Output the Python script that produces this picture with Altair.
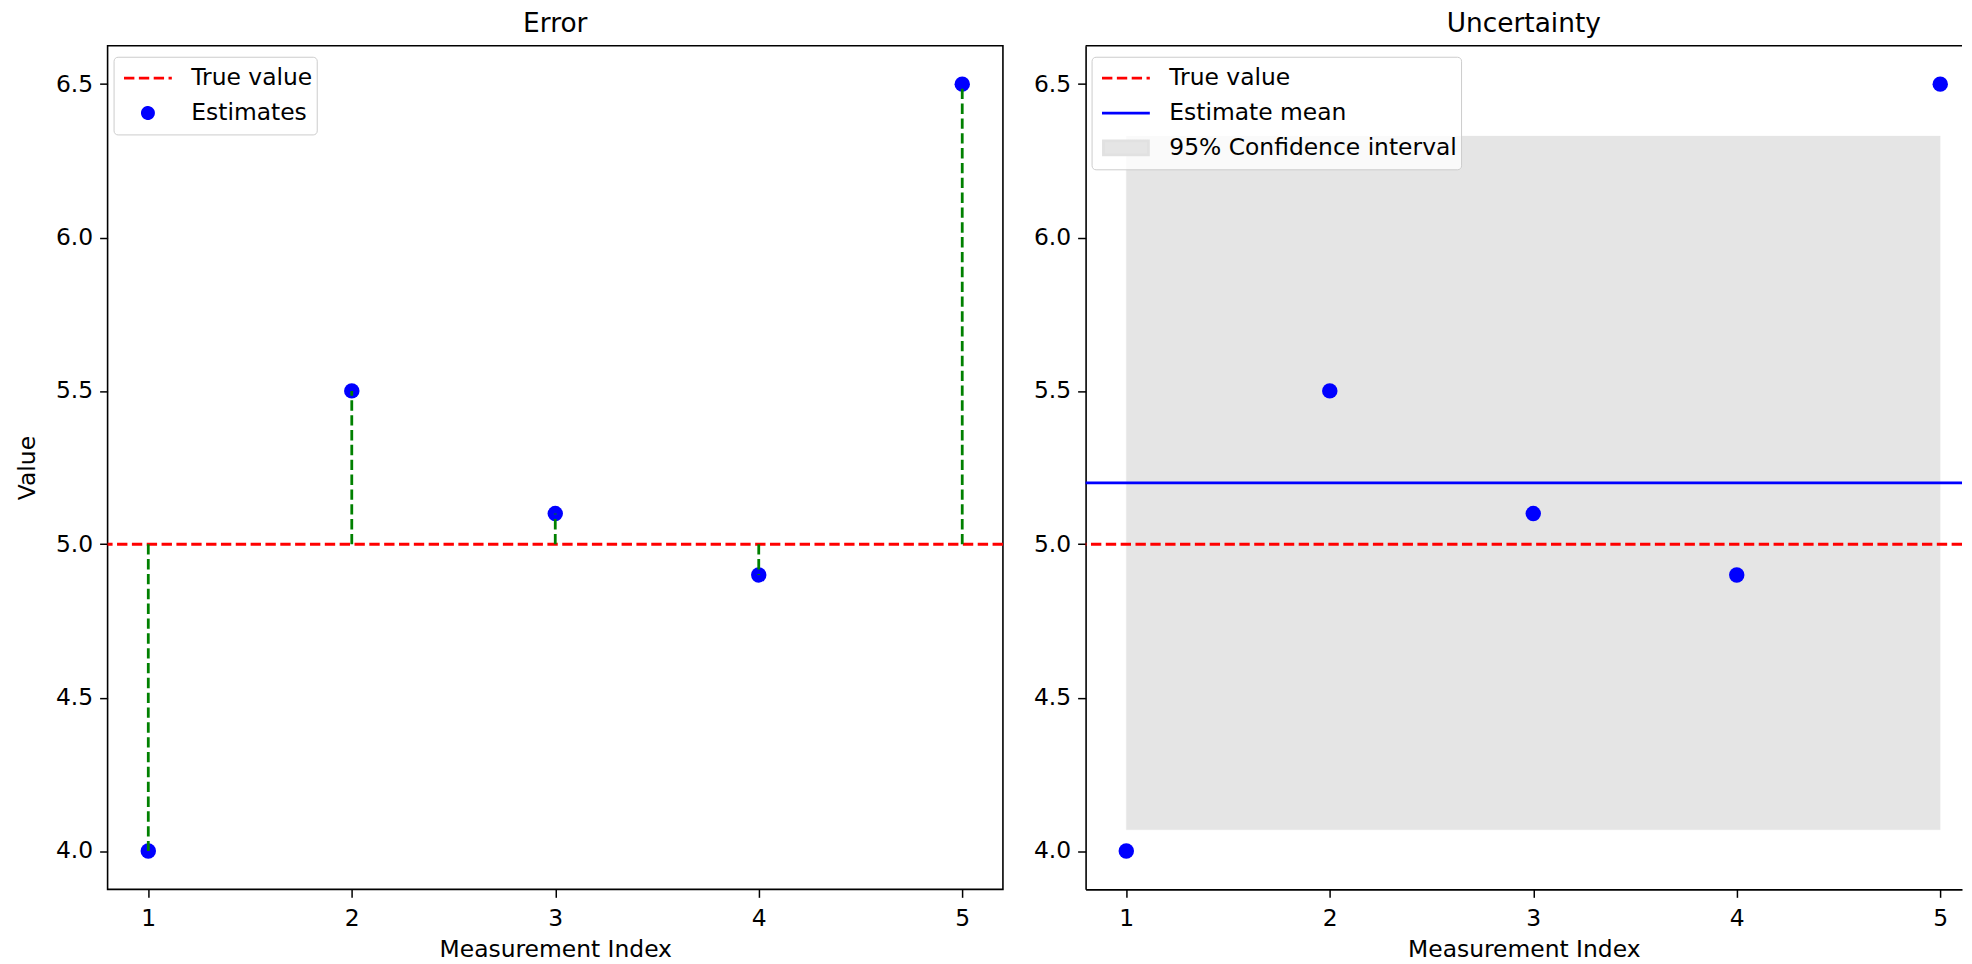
import altair as alt
import pandas as pd

# ---- data ----
idx = [1, 2, 3, 4, 5]
estimates = [4.0, 5.5, 5.1, 4.9, 6.5]
true_value = [5.0]
estimate_mean = [5.2]
ci_bounds = [4.069, 6.331]

x_ticks = [1, 2, 3, 4, 5]
y_ticks = [4.0, 4.5, 5.0, 5.5, 6.0, 6.5]
x_domain_left = [0.8, 5.2]
x_domain_right = [0.8, 5.107]   # right panel is cut off by the figure edge
y_domain = [3.875, 6.625]

left_series = ["True value", "Estimates"]
right_series = ["True value", "Estimate mean", "95% Confidence interval"]

FONT = "DejaVu Sans"
FS = 23.5
W_L, W_R, H = 899, 880, 847
DASH = [10.4, 4.5]
LW = 2.8

pts = pd.DataFrame({"idx": idx, "value": estimates, "true": true_value * len(idx)})
tv = pd.DataFrame({"value": true_value})
mean_df = pd.DataFrame({"value": estimate_mean})
ci_df = pd.DataFrame({"x0": [idx[0]], "x1": [idx[-1]],
                      "lo": [ci_bounds[0]], "hi": [ci_bounds[1]]})
legend_only = pd.DataFrame({"series": pd.Series([], dtype=str)})
frame_df = pd.DataFrame({"k": [0]})

xs_l = alt.Scale(domain=x_domain_left, nice=False, zero=False)
xs_r = alt.Scale(domain=x_domain_right, nice=False, zero=False)
ys = alt.Scale(domain=y_domain, nice=False, zero=False)


def x_axis(domain):
    return alt.Axis(values=x_ticks, format="d", title="Measurement Index",
                    tickSize=8, labelPadding=9, titlePadding=8,
                    domain=domain, domainColor="black", domainWidth=1.6)


def y_axis(title, domain):
    if title:
        return alt.Axis(values=y_ticks, format=".1f", title=title,
                        tickSize=8, labelPadding=7, titlePadding=16,
                        domain=domain, domainColor="black", domainWidth=1.6)
    return alt.Axis(values=y_ticks, format=".1f", title=None,
                    tickSize=8, labelPadding=7,
                    domain=domain, domainColor="black", domainWidth=1.6)


def legend():
    return alt.Legend(
        title=None, orient="none", legendX=6, legendY=11, padding=4,
        symbolSize=2304, clipHeight=35, rowPadding=0, symbolOffset=5,
        symbolStrokeWidth=LW,
        labelOffset=18, labelFont=FONT, labelFontSize=FS, labelColor="black",
        labelLimit=500,
        strokeColor="#cccccc", fillColor="rgba(255,255,255,0.8)", cornerRadius=4,
        symbolOpacity=1)


def title(text):
    return alt.TitleParams(text=text, fontSize=26.5, font=FONT, fontWeight="normal",
                           anchor="middle", frame="group", offset=-19,
                           baseline="bottom", color="black")


# ---- left panel: Error ----
l_true = alt.Chart(tv).mark_rule(color="red", strokeDash=DASH, strokeWidth=LW).encode(
    y=alt.Y("value:Q", scale=ys, axis=y_axis("Value", False)),
)
l_pts = alt.Chart(pts).mark_point(filled=True, size=240, opacity=1, color="blue").encode(
    x=alt.X("idx:Q", scale=xs_l, axis=x_axis(False)),
    y=alt.Y("value:Q", scale=ys),
)
l_err = alt.Chart(pts).mark_rule(color="green", strokeDash=DASH, strokeWidth=LW).encode(
    x=alt.X("idx:Q", scale=xs_l),
    y=alt.Y("true:Q", scale=ys),
    y2="value:Q",
)
L = legend()
l_leg = alt.Chart(legend_only).mark_point().encode(
    fill=alt.Fill("series:N", scale=alt.Scale(domain=left_series, range=["transparent", "blue"]), legend=L),
    stroke=alt.Stroke("series:N", scale=alt.Scale(domain=left_series, range=["red", "blue"]), legend=L),
    shape=alt.Shape("series:N", scale=alt.Scale(domain=left_series, range=["stroke", "circle"]), legend=L),
    size=alt.Size("series:N", scale=alt.Scale(domain=left_series, range=[2304, 125]), legend=L),
    strokeDash=alt.StrokeDash("series:N", scale=alt.Scale(domain=left_series, range=[DASH, [1, 0]]), legend=L),
)
left = alt.layer(l_true, l_pts, l_err, l_leg).properties(
    width=W_L, height=H, title=title("Error"),
    view=alt.ViewBackground(stroke="black", strokeWidth=1.6),
)

# ---- right panel: Uncertainty (right spine cut off by the figure edge) ----
r_ci = alt.Chart(ci_df).mark_rect(color="gray", opacity=0.2, stroke="gray",
                                  strokeWidth=1, strokeOpacity=0.2).encode(
    x=alt.X("x0:Q", scale=xs_r, axis=x_axis(True)),
    x2="x1:Q",
    y=alt.Y("lo:Q", scale=ys, axis=y_axis(None, True)),
    y2="hi:Q",
)
r_true = alt.Chart(tv).mark_rule(color="red", strokeDash=DASH, strokeWidth=LW).encode(
    y=alt.Y("value:Q", scale=ys),
)
r_mean = alt.Chart(mean_df).mark_rule(color="blue", strokeWidth=LW).encode(
    y=alt.Y("value:Q", scale=ys),
)
r_pts = alt.Chart(pts).mark_point(filled=True, size=240, opacity=1, color="blue").encode(
    x=alt.X("idx:Q", scale=xs_r),
    y=alt.Y("value:Q", scale=ys),
)
r_top = alt.Chart(frame_df).mark_rule(color="black", strokeWidth=1.6).encode(
    y=alt.value(0), x=alt.value(0), x2=alt.value(W_R),
)
R = legend()
RECT = "M-0.94,-0.296H0.94V0.296H-0.94Z"
r_leg = alt.Chart(legend_only).mark_point().encode(
    fill=alt.Fill("series:N", scale=alt.Scale(domain=right_series, range=["transparent", "transparent", "#e5e5e5"]), legend=R),
    stroke=alt.Stroke("series:N", scale=alt.Scale(domain=right_series, range=["red", "blue", "#e1e1e1"]), legend=R),
    shape=alt.Shape("series:N", scale=alt.Scale(domain=right_series, range=["stroke", "stroke", RECT]), legend=R),
    strokeDash=alt.StrokeDash("series:N", scale=alt.Scale(domain=right_series, range=[DASH, [1, 0], [1, 0]]), legend=R),
)
right = alt.layer(r_ci, r_true, r_mean, r_pts, r_top, r_leg).properties(
    width=W_R, height=H, title=title("Uncertainty"),
    view=alt.ViewBackground(stroke="transparent"),
)

chart = alt.hconcat(left, right, spacing=27).resolve_scale(
    x="independent",
    fill="independent", stroke="independent", shape="independent",
    size="independent", strokeDash="independent",
).resolve_legend(
    fill="independent", stroke="independent", shape="independent",
    size="independent", strokeDash="independent",
).properties(
    padding={"left": 6, "top": 0, "right": 0, "bottom": 0},
    background="white",
).configure_axis(
    grid=False, tickColor="black", tickWidth=1.5,
    labelFont=FONT, labelFontSize=FS, labelColor="black",
    titleFont=FONT, titleFontSize=FS, titleColor="black", titleFontWeight="normal",
)

chart.save("out.html", embed_options={"renderer": "svg", "actions": False})
